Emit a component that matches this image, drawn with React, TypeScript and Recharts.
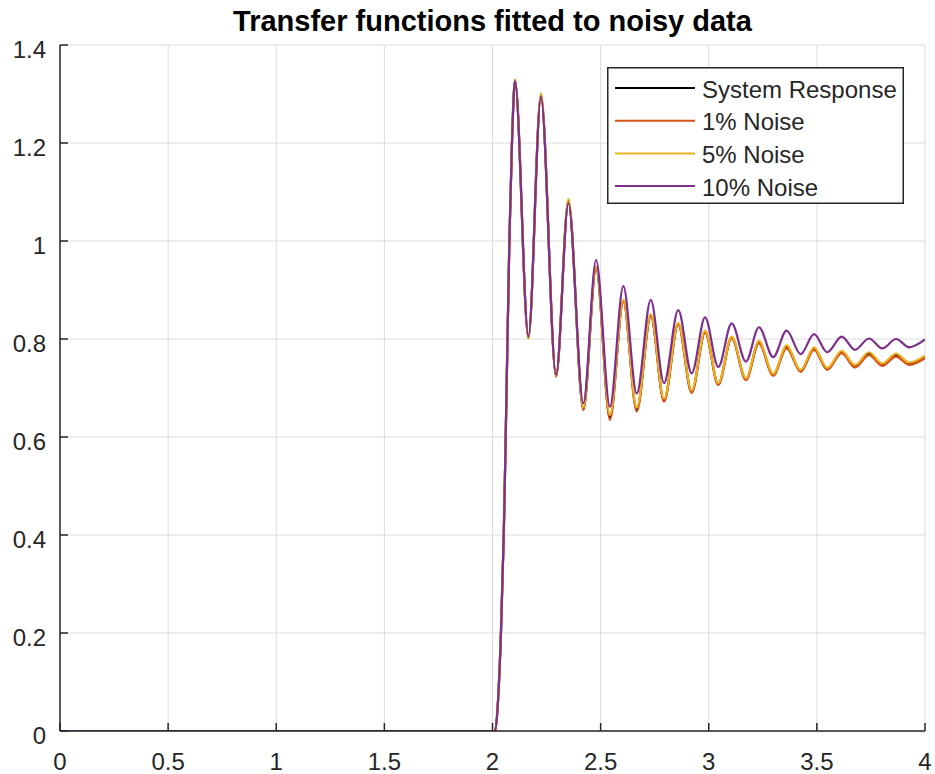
import React from "react";
import { LineChart, Line, XAxis, YAxis, CartesianGrid, Legend } from "recharts";

// time points (s): flat segment, step rise, then successive peaks / troughs
const times = [
  0, 2.012, 2.024, 2.039, 2.052, 2.061, 2.078, 2.09,
  2.104, 2.166, 2.224, 2.294, 2.351, 2.42, 2.479, 2.543, 2.605, 2.667,
  2.732, 2.793, 2.859, 2.921, 2.983, 3.044, 3.106, 3.172, 3.232, 3.298,
  3.36, 3.425, 3.487, 3.548, 3.615, 3.676, 3.741, 3.803, 3.866, 3.927, 4.0,
];

const systemResponse = [
  0, 0, 0.05, 0.2, 0.4, 0.6, 1.0, 1.2,
  1.328, 0.803, 1.298, 0.724, 1.082, 0.657, 0.946, 0.64, 0.878, 0.656,
  0.848, 0.675, 0.831, 0.692, 0.815, 0.708, 0.803, 0.718, 0.793, 0.727,
  0.784, 0.735, 0.78, 0.739, 0.773, 0.744, 0.77, 0.747, 0.767, 0.749, 0.763,
];

const noise1 = [
  0, 0, 0.05, 0.2, 0.4, 0.6, 1.0, 1.2,
  1.327, 0.803, 1.297, 0.723, 1.08, 0.655, 0.944, 0.635, 0.876, 0.652,
  0.846, 0.672, 0.829, 0.69, 0.813, 0.706, 0.801, 0.716, 0.791, 0.725,
  0.781, 0.733, 0.778, 0.737, 0.771, 0.742, 0.767, 0.745, 0.764, 0.747, 0.761,
];

const noise5 = [
  0, 0, 0.05, 0.2, 0.4, 0.6, 1.0, 1.2,
  1.33, 0.8, 1.302, 0.725, 1.086, 0.66, 0.948, 0.645, 0.88, 0.66,
  0.851, 0.678, 0.833, 0.695, 0.817, 0.71, 0.805, 0.72, 0.796, 0.729,
  0.787, 0.737, 0.783, 0.741, 0.776, 0.747, 0.773, 0.75, 0.77, 0.752, 0.766,
];

const noise10 = [
  0, 0, 0.05, 0.2, 0.4, 0.6, 1.0, 1.2,
  1.327, 0.805, 1.294, 0.727, 1.077, 0.669, 0.961, 0.662, 0.908, 0.689,
  0.88, 0.71, 0.859, 0.73, 0.844, 0.743, 0.832, 0.754, 0.824, 0.763,
  0.817, 0.769, 0.81, 0.773, 0.805, 0.778, 0.801, 0.781, 0.8, 0.783, 0.799,
];

const xTicks = [0, 0.5, 1, 1.5, 2, 2.5, 3, 3.5, 4];
const yTicks = [0, 0.2, 0.4, 0.6, 0.8, 1, 1.2, 1.4];

const seriesNames = ["System Response", "1% Noise", "5% Noise", "10% Noise"];
const seriesKeys = ["sys", "n1", "n5", "n10"];
const seriesColors = ["#000000", "#D95319", "#EDB120", "#7E2F8E"];

const title = "Transfer functions fitted to noisy data";

const data = times.map((t, i) => ({
  t,
  sys: systemResponse[i],
  n1: noise1[i],
  n5: noise5[i],
  n10: noise10[i],
}));

const AXIS = "#262626";
const FONT = "'Liberation Sans', Arial, Helvetica, sans-serif";
const TICK_LEN = 8;
const FS = 24;

const BottomTick = (props: any) => {
  const { x, y, payload } = props;
  return (
    <g>
      <line x1={x} x2={x} y1={y} y2={y - TICK_LEN} stroke={AXIS} strokeWidth={1.5} />
      <text x={x} y={y + 30} textAnchor="middle" dominantBaseline="central" fill={AXIS} fontSize={FS} fontFamily={FONT}>
        {String(payload.value)}
      </text>
    </g>
  );
};

const LeftTick = (props: any) => {
  const { x, y, payload } = props;
  return (
    <g>
      <line x1={x} x2={x + TICK_LEN} y1={y} y2={y} stroke={AXIS} strokeWidth={1.5} />
      <text x={x - 14} y={y + 4} textAnchor="end" dominantBaseline="central" fill={AXIS} fontSize={FS} fontFamily={FONT}>
        {String(payload.value)}
      </text>
    </g>
  );
};

const TopTick = (props: any) => {
  const { x, y } = props;
  return <line x1={x} x2={x} y1={y} y2={y + TICK_LEN} stroke={AXIS} strokeWidth={1.5} />;
};

const RightTick = (props: any) => {
  const { x, y } = props;
  return <line x1={x} x2={x - TICK_LEN} y1={y} y2={y} stroke={AXIS} strokeWidth={1.5} />;
};

const LegendBox = () => (
  <svg width={297} height={137} style={{ display: "block" }}>
    <rect x={0.75} y={0.75} width={295.5} height={135.5} fill="#ffffff" stroke={AXIS} strokeWidth={1.5} />
    {seriesNames.map((name, i) => {
      const cy = 21 + i * 32.7;
      return (
        <g key={name}>
          <line x1={8} x2={88} y1={cy} y2={cy} stroke={seriesColors[i]} strokeWidth={2} />
          <text x={95} y={cy + 1} dominantBaseline="central" fill={AXIS} fontSize={FS} fontFamily={FONT}>
            {name}
          </text>
        </g>
      );
    })}
  </svg>
);

export default function App() {
  return (
    <div style={{ position: "absolute", left: 0, top: 0, width: 935, height: 774, background: "#ffffff" }}>
      <div
        style={{
          position: "absolute",
          left: 60,
          width: 865,
          top: 1,
          textAlign: "center",
          fontFamily: FONT,
          fontWeight: "bold",
          fontSize: 29,
          lineHeight: "40px",
          color: "#000000",
          whiteSpace: "nowrap",
        }}
      >
        {title}
      </div>
      <div style={{ position: "absolute", left: 0, top: 0 }}>
        <LineChart width={935} height={774} data={data} margin={{ top: 45, right: 10, left: 0, bottom: 0 }}>
          <CartesianGrid xAxisId="b" yAxisId="l" stroke="#dcdcdc" strokeWidth={1} />
          <XAxis
            xAxisId="b"
            dataKey="t"
            type="number"
            domain={[0, 4]}
            ticks={xTicks}
            interval={0}
            height={43}
            tickSize={0}
            tickMargin={0}
            tick={<BottomTick />}
            axisLine={{ stroke: AXIS, strokeWidth: 1.5 }}
            allowDataOverflow
          />
          <XAxis
            xAxisId="t"
            dataKey="t"
            type="number"
            orientation="top"
            domain={[0, 4]}
            ticks={xTicks}
            interval={0}
            height={0}
            tickSize={0}
            tickMargin={0}
            tick={<TopTick />}
            axisLine={{ stroke: AXIS, strokeWidth: 1.5 }}
          />
          <YAxis
            yAxisId="l"
            type="number"
            domain={[0, 1.4]}
            ticks={yTicks}
            interval={0}
            width={60}
            tickSize={0}
            tickMargin={0}
            tick={<LeftTick />}
            axisLine={{ stroke: AXIS, strokeWidth: 1.5 }}
            allowDataOverflow
          />
          <YAxis
            yAxisId="r"
            orientation="right"
            type="number"
            domain={[0, 1.4]}
            ticks={yTicks}
            interval={0}
            width={0}
            tickSize={0}
            tickMargin={0}
            tick={<RightTick />}
            axisLine={{ stroke: AXIS, strokeWidth: 1.5 }}
          />
          {seriesKeys.map((k, i) => (
            <Line
              key={k}
              xAxisId="b"
              yAxisId="l"
              type="monotone"
              dataKey={k}
              name={seriesNames[i]}
              stroke={seriesColors[i]}
              strokeWidth={2.2}
              dot={false}
              activeDot={false}
              isAnimationActive={false}
            />
          ))}
          <Legend
            layout="vertical"
            align="center"
            verticalAlign="middle"
            content={() => <LegendBox />}
            wrapperStyle={{ position: "absolute", left: 607, top: 67, width: 297, height: 137 }}
          />
        </LineChart>
      </div>
    </div>
  );
}
